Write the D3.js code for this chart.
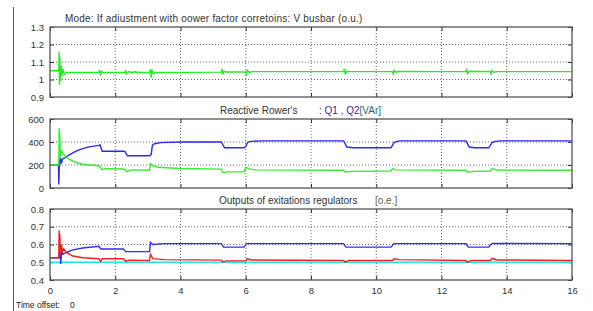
<!DOCTYPE html>
<html>
<head>
<meta charset="utf-8">
<script src="https://cdn.jsdelivr.net/npm/d3@7"></script>
<style>
  body { margin: 0; background: #fff; }
  svg { display: block; font-family: "Liberation Sans", Arial, sans-serif; }
</style>
</head>
<body>
<svg id="chart" width="593" height="311"></svg>
<script>
// time axis ticks (s)
const timeTicks = [0, 2, 4, 6, 8, 10, 12, 14, 16];

// panel 1: busbar voltage (p.u.)
const vBusbar = [
  [0, 1.05], [0.27, 1.05], [0.28, 1.16], [0.29, 0.97], [0.3, 1.13], [0.32, 0.99], [0.34, 1.08],
  [0.36, 1.02], [0.39, 1.06], [0.43, 1.03], [0.5, 1.04], [1.5, 1.04], [1.52, 1.055], [1.55, 1.03],
  [1.58, 1.045], [1.63, 1.04], [2.3, 1.04], [2.32, 1.05], [2.35, 1.033], [2.4, 1.045], [2.5, 1.04],
  [2.6, 1.044], [2.7, 1.04], [3.05, 1.04], [3.08, 1.058], [3.1, 1.01], [3.13, 1.052], [3.17, 1.033],
  [3.23, 1.04], [5.25, 1.042], [5.27, 1.06], [5.3, 1.03], [5.33, 1.048], [5.4, 1.043], [6.0, 1.043],
  [6.02, 1.03], [6.05, 1.052], [6.1, 1.04], [6.2, 1.045], [9.0, 1.045], [9.02, 1.06], [9.05, 1.033],
  [9.1, 1.047], [9.2, 1.045], [10.5, 1.045], [10.52, 1.032], [10.55, 1.052], [10.6, 1.042],
  [10.7, 1.046], [12.75, 1.045], [12.77, 1.06], [12.8, 1.034], [12.85, 1.047], [13.5, 1.045],
  [13.52, 1.028], [13.55, 1.052], [13.6, 1.042], [13.7, 1.045], [16, 1.045]
];

// panel 2: reactive powers (VAr)
const q1 = [
  [0, 200], [0.26, 200], [0.27, 30], [0.29, 250], [0.3, 190], [0.32, 260], [0.35, 215], [0.38, 250],
  [0.45, 262], [0.6, 290], [0.8, 320], [1.0, 343], [1.2, 358], [1.5, 370], [1.53, 375], [1.6, 320],
  [2.25, 320], [2.3, 316], [2.37, 280], [3.05, 280], [3.1, 290], [3.14, 372], [3.2, 385], [3.4, 395],
  [4.0, 400], [5.25, 400], [5.35, 350], [5.95, 350], [6.0, 362], [6.06, 398], [6.15, 405], [6.5, 410],
  [9.0, 410], [9.1, 356], [9.3, 350], [10.45, 350], [10.55, 396], [10.7, 410], [12.75, 410],
  [12.85, 356], [13.0, 350], [13.45, 350], [13.55, 396], [13.65, 405], [13.8, 410], [16, 410]
];
const q2 = [
  [0, 200], [0.27, 200], [0.28, 520], [0.29, 250], [0.3, 480], [0.32, 265], [0.35, 330], [0.39, 300],
  [0.5, 268], [0.6, 248], [0.8, 222], [1.0, 207], [1.2, 200], [1.5, 194], [1.55, 176], [1.6, 160],
  [1.7, 168], [2.25, 165], [2.3, 160], [2.36, 140], [2.45, 155], [2.6, 158], [3.05, 155], [3.08, 210],
  [3.15, 195], [3.3, 180], [4.0, 170], [5.25, 164], [5.3, 134], [5.45, 140], [5.95, 140], [6.0, 180],
  [6.1, 166], [6.3, 158], [9.0, 155], [9.05, 137], [9.2, 145], [10.45, 148], [10.5, 168], [10.6, 158],
  [12.75, 155], [12.8, 137], [12.95, 145], [13.5, 148], [13.55, 168], [13.7, 156], [16, 155]
];

// panel 3: excitation regulator outputs (o.e.)
const e1 = [
  [0, 0.525], [0.28, 0.525], [0.29, 0.565], [0.3, 0.53], [0.31, 0.575], [0.33, 0.49], [0.36, 0.565],
  [0.4, 0.545], [0.5, 0.555], [0.7, 0.57], [1.0, 0.58], [1.5, 0.59], [1.56, 0.575], [2.25, 0.575],
  [2.32, 0.56], [3.05, 0.56], [3.08, 0.612], [3.15, 0.6], [3.5, 0.605], [5.25, 0.605], [5.32, 0.585],
  [5.95, 0.585], [6.02, 0.605], [9.0, 0.605], [9.07, 0.585], [10.45, 0.585], [10.55, 0.605],
  [12.75, 0.605], [12.82, 0.585], [13.45, 0.585], [13.5, 0.597], [13.55, 0.606], [16, 0.605]
];
const e2 = [
  [0, 0.525], [0.27, 0.525], [0.28, 0.68], [0.29, 0.53], [0.3, 0.66], [0.32, 0.55], [0.35, 0.6],
  [0.38, 0.56], [0.42, 0.575], [0.5, 0.555], [0.7, 0.535], [1.0, 0.525], [1.5, 0.52], [1.55, 0.505],
  [1.6, 0.52], [2.25, 0.52], [2.32, 0.505], [2.4, 0.512], [3.05, 0.51], [3.08, 0.545], [3.15, 0.52],
  [3.5, 0.515], [5.25, 0.512], [5.3, 0.5], [5.4, 0.508], [6.0, 0.508], [6.05, 0.52], [6.15, 0.513],
  [9.0, 0.51], [9.05, 0.5], [9.15, 0.51], [10.5, 0.51], [10.55, 0.52], [10.7, 0.515], [12.75, 0.51],
  [12.8, 0.5], [12.9, 0.51], [13.5, 0.51], [13.55, 0.522], [13.7, 0.513], [16, 0.51]
];
const eRef = [[0, 0.5], [16, 0.5]];

const yTicks1 = [0.9, 1, 1.1, 1.2, 1.3];
const yTicks2 = [0, 200, 400, 600];
const yTicks3 = [0.4, 0.5, 0.6, 0.7, 0.8];

const svg = d3.select('#chart');

const x = d3.scaleLinear().domain([0, 16]).range([50, 572]);

const panels = [
  { top: 27, bottom: 97, domain: [0.9, 1.3], ticks: yTicks1,
    series: [{ data: vBusbar, color: '#22ee22' }] },
  { top: 119, bottom: 188, domain: [0, 600], ticks: yTicks2,
    series: [{ data: q1, color: '#2a2af0' }, { data: q2, color: '#33ee33' }] },
  { top: 209, bottom: 280, domain: [0.4, 0.8], ticks: yTicks3, xLabels: true,
    series: [{ data: eRef, color: '#22e8e8' }, { data: e1, color: '#3030f0' }, { data: e2, color: '#f02020' }] }
];

// window edge line
svg.append('line')
    .attr('x1', 13.5).attr('x2', 13.5)
    .attr('y1', 7).attr('y2', 311)
    .attr('stroke', '#555').attr('stroke-width', 1);

panels.forEach(p => {
  const y = d3.scaleLinear().domain(p.domain).range([p.bottom, p.top]);
  const g = svg.append('g');

  // grid
  g.append('g').selectAll('line')
    .data(timeTicks.slice(1, -1))
    .join('line')
      .attr('x1', d => x(d)).attr('x2', d => x(d))
      .attr('y1', p.top).attr('y2', p.bottom)
      .attr('stroke', '#666').attr('stroke-width', 1)
      .attr('stroke-dasharray', '1,2');
  g.append('g').selectAll('line')
    .data(p.ticks.slice(1, -1))
    .join('line')
      .attr('x1', x(0)).attr('x2', x(16))
      .attr('y1', d => y(d)).attr('y2', d => y(d))
      .attr('stroke', '#666').attr('stroke-width', 1)
      .attr('stroke-dasharray', '1,2');

  // axes with inward ticks
  const left = g.append('g').attr('transform', `translate(${x(0)},0)`)
    .call(d3.axisLeft(y).tickValues(p.ticks).tickSize(-4).tickPadding(6).tickFormat(d3.format('')));
  const right = g.append('g').attr('transform', `translate(${x(16)},0)`)
    .call(d3.axisRight(y).tickValues(p.ticks).tickSize(-4).tickFormat(''));
  const bottom = g.append('g').attr('transform', `translate(0,${p.bottom})`)
    .call(d3.axisBottom(x).tickValues(timeTicks).tickSize(-4).tickPadding(7)
      .tickFormat(p.xLabels ? d3.format('') : ''));
  const top = g.append('g').attr('transform', `translate(0,${p.top})`)
    .call(d3.axisTop(x).tickValues(timeTicks).tickSize(-4).tickFormat(''));
  [left, right, bottom, top].forEach(a => {
    a.select('.domain').remove();
    a.selectAll('.tick line').attr('stroke', '#333');
    a.selectAll('text').attr('fill', '#333').style('font-size', '9.5px');
  });

  // lines
  const line = d3.line().x(d => x(d[0])).y(d => y(d[1]));
  p.series.forEach(s => {
    g.append('path')
      .datum(s.data)
      .attr('fill', 'none')
      .attr('stroke', s.color)
      .attr('stroke-width', 1.4)
      .attr('d', line);
  });

  // box
  g.append('rect')
    .attr('x', x(0)).attr('y', p.top)
    .attr('width', x(16) - x(0)).attr('height', p.bottom - p.top)
    .attr('fill', 'none').attr('stroke', '#555').attr('stroke-width', 1.3);
});

// titles
const titleSize = '10px';
svg.append('text').attr('x', 65).attr('y', 22).attr('fill', '#333').style('font-size', titleSize)
  .style('letter-spacing', '0.2px')
  .text('Mode: If adiustment with oower factor corretoins: V busbar (o.u.)');

const t2 = svg.append('text').attr('x', 220).attr('y', 114).style('font-size', titleSize);
t2.append('tspan').attr('fill', '#333').text("Reactive Rower's");
t2.append('tspan').attr('x', 319).attr('fill', '#3a2f85').text(': Q1 , Q2');
t2.append('tspan').attr('fill', '#2f6878').text('[VAr]');

const t3 = svg.append('text').attr('x', 219).attr('y', 204).style('font-size', titleSize);
t3.append('tspan').attr('fill', '#333').text('Outputs of exitations regulators');
t3.append('tspan').attr('x', 375).attr('fill', '#5e6530').text('[o.e.]');

const t4 = svg.append('text').attr('x', 16).attr('y', 308).attr('fill', '#222').style('font-size', '8.5px');
t4.append('tspan').text('Time offset:');
t4.append('tspan').attr('x', 70).text('0');
</script>
</body>
</html>
